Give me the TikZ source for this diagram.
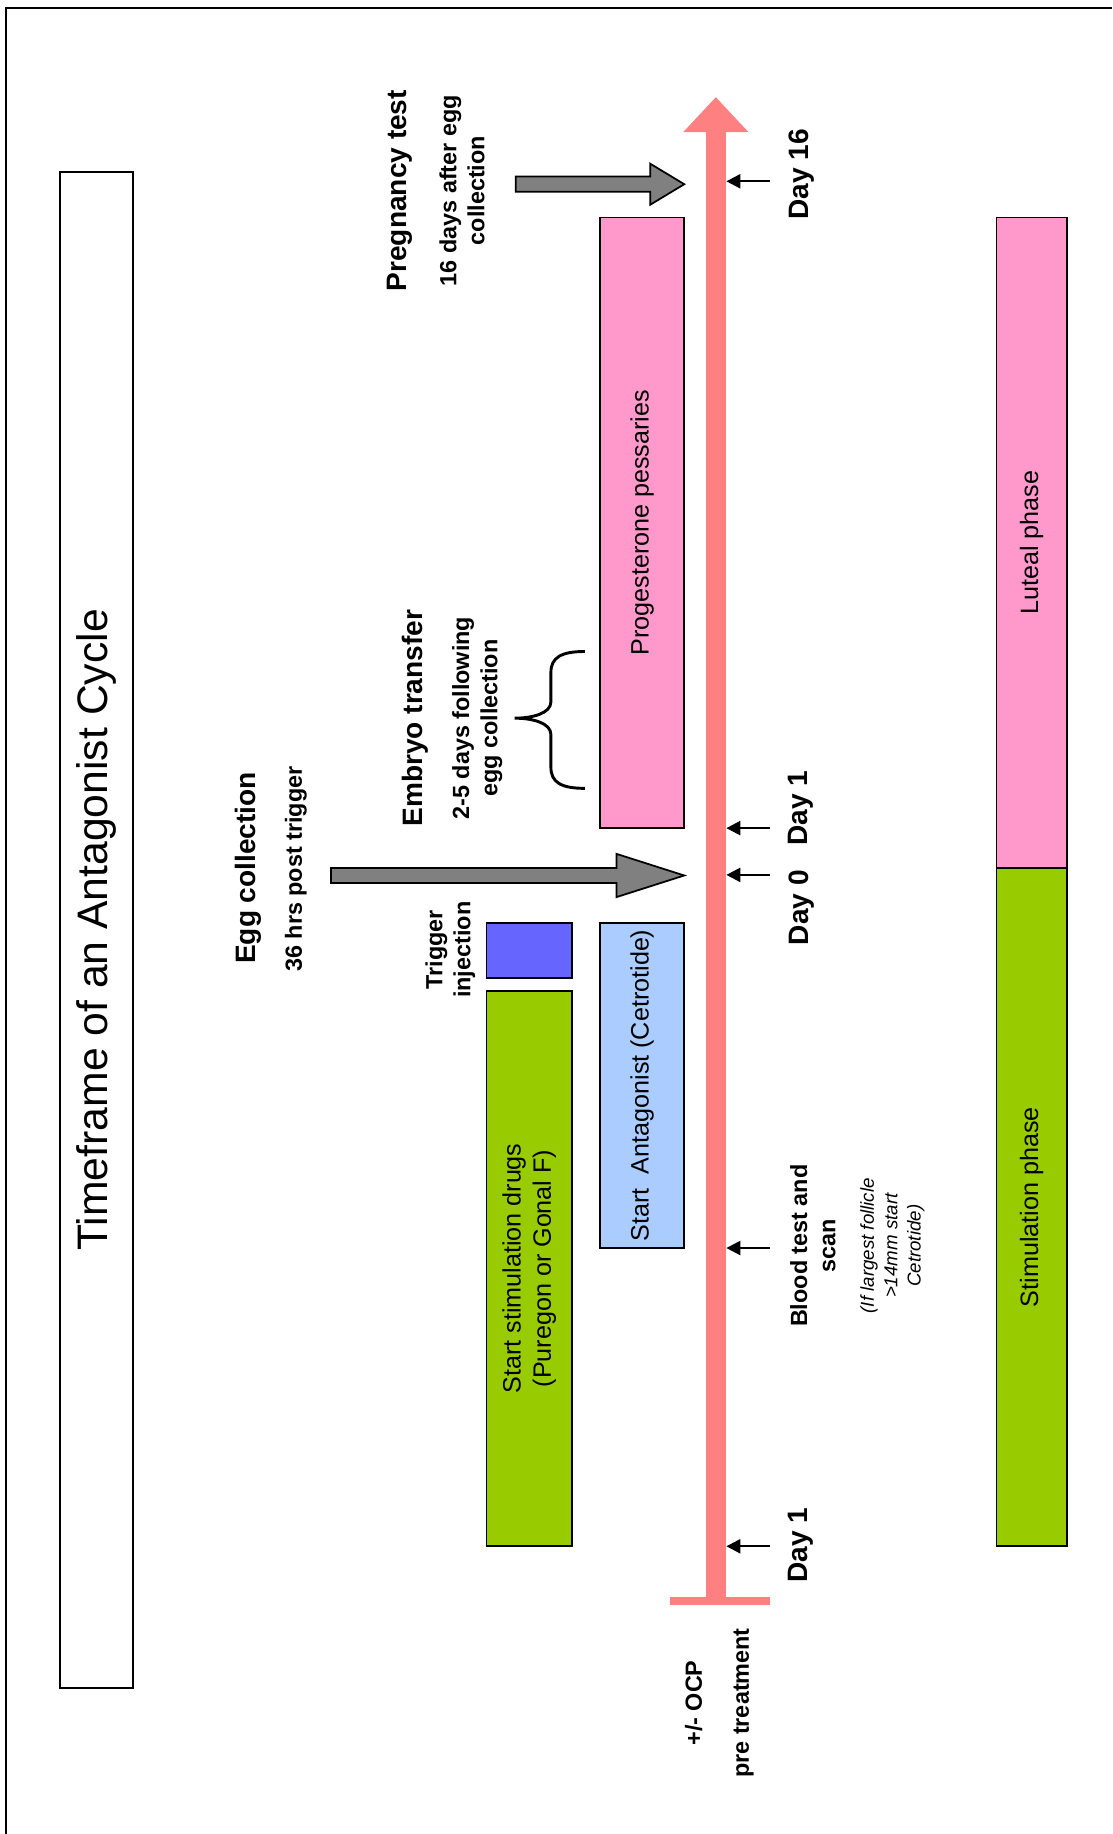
\documentclass[tikz,border=0pt]{standalone}
\usepackage{fontspec}
\setmainfont{Liberation Sans}
\usetikzlibrary{positioning, arrows.meta}
\definecolor{axispink}{RGB}{255,128,128}
\definecolor{lutealpink}{RGB}{255,153,204}
\definecolor{stimgreen}{RGB}{153,204,0}
\definecolor{triggerblue}{RGB}{102,102,255}
\definecolor{antagblue}{RGB}{170,204,255}
\tikzset{
x=1pt, y=-1pt, % measured from the top left corner of the page
phasebox/.style={draw, line width=1.5pt, rotate=90, inner sep=0pt, align=center, font=\fontsize{21.5}{26}\selectfont}, % the coloured bars
heading/.style={rotate=90, align=center, font=\bfseries\fontsize{24}{29}\selectfont}, % big labels
note/.style={rotate=90, align=center, font=\bfseries\fontsize{20}{24}\selectfont}, % smaller labels
tick/.style={-{Triangle[length=12pt,width=12pt]}, line width=2pt}, % day markers
blockarrow/.style={draw, line width=1.5pt, fill=gray, line join=miter},
}

\begin{document}
\begin{tikzpicture}
    \useasboundingbox (0,0) rectangle (951,1568);
    \draw[line width=2pt] (5,1568) -- (5,7) -- (951,7);

    % title
    \node[phasebox, fill=white, minimum width=1296pt, minimum height=63pt, font=\fontsize{36.5}{44}\selectfont] (title) at (82.5,795) {Timeframe of an Antagonist Cycle};

    % time axis
    \draw[axispink, line width=17pt, -{Triangle[length=30pt,width=54pt]}] (612,1369) -- (612,83);
    \draw[axispink, line width=7pt] (573,1369) -- (658,1369);
    \foreach \ty/\tname in {155/t16, 708/tday1, 748/tday0, 1067/tscan, 1322/tstart} {
        \coordinate (\tname) at (621,\ty);
        \draw[tick] (\tname) ++(37,0) -- (\tname);
    }
    \node[heading] (day16) at (685,149) {Day 16};
    \node[heading] (dayone) at (685,691) {Day 1};
    \node[heading] (dayzero) at (685,776) {Day 0};
    \node[heading] (daystart) at (685,1321) {Day 1};
    \node[note] (scan) at (695,1065) {Blood test and\\scan};
    \node[rotate=90, align=center, font=\itshape\fontsize{16}{20}\selectfont] (follicle) at (763,1065) {(If largest follicle\\>14mm start\\Cetrotide)};
    \node[note] (ocp) at (615,1456) {+/- OCP\\[16pt]pre treatment};

    % treatment bars
    \node[phasebox, fill=stimgreen, minimum width=475pt, minimum height=73pt] (stimdrugs) at (452.5,1084.5) {Start stimulation drugs\\(Puregon or Gonal F)};
    \node[phasebox, fill=triggerblue, minimum width=47pt, minimum height=73pt] (trigger) at (452.5,812.5) {};
    \node[note] (triggerlab) at (385,812) {Trigger\\injection};
    \node[phasebox, fill=antagblue, minimum width=278pt, minimum height=72pt] (antag) at (549,928) {Start\ \ Antagonist (Cetrotide)};
    \node[phasebox, fill=lutealpink, minimum width=522pt, minimum height=72pt] (progest) at (549,447) {Progesterone pessaries};

    % phases
    \node[phasebox, fill=lutealpink, minimum width=556pt, minimum height=60pt] (luteal) at (882,464) {Luteal phase};
    \node[phasebox, fill=stimgreen, minimum width=580pt, minimum height=60pt] (stimphase) at (882,1032) {Stimulation phase};

    % egg collection
    \node[heading] (egg) at (212,742) {Egg collection};
    \node[note] (egghrs) at (253,743) {36 hrs post trigger};
    \draw[blockarrow] (283,742) -- (527,742) -- (527,730) -- (585,748.5) -- (527,767) -- (527,755) -- (283,755) -- cycle;

    % embryo transfer
    \node[heading] (embryo) at (355,614) {Embryo transfer};
    \node[note] (embryodays) at (408,614) {2-5 days following\\egg collection};
    \draw[line width=2.5pt] (500,557) .. controls (480,557) and (471,562) .. (471,575) -- (471,600)
        .. controls (471,610) and (455,614) .. (440,614) .. controls (455,614) and (471,618) .. (471,628)
        -- (471,656) .. controls (471,669) and (480,674) .. (500,674);

    % pregnancy test
    \node[heading] (preg) at (342,163) {Pregnancy test};
    \node[note] (pregdays) at (395,163) {16 days after egg\\collection};
    \draw[blockarrow] (441,151) -- (556,151) -- (556,140) -- (585,157.5) -- (556,175) -- (556,164) -- (441,164) -- cycle;
\end{tikzpicture}
\end{document}
